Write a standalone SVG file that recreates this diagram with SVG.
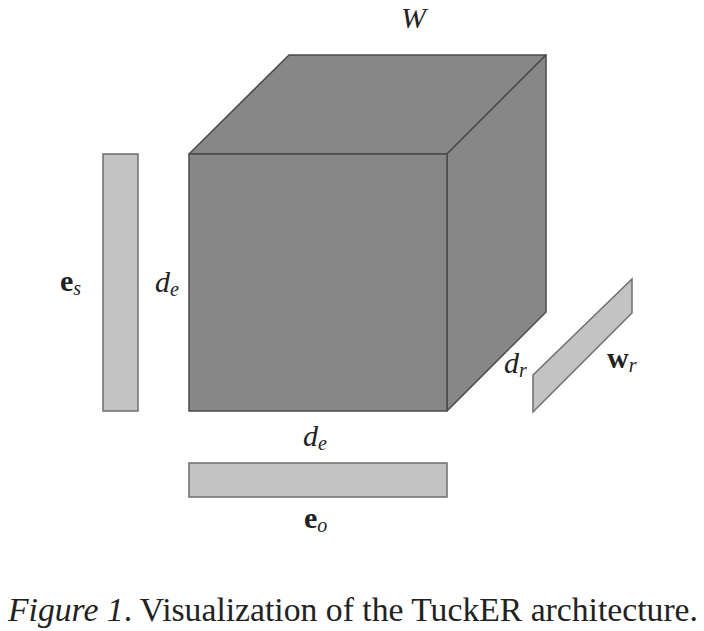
<svg xmlns="http://www.w3.org/2000/svg" width="704" height="631" viewBox="0 0 704 631">
<style>
.cube{fill:#878787;stroke:#4a4a4a;stroke-width:1.5;stroke-linejoin:round}
.bar{fill:#c3c3c3;stroke:#6e6e6e;stroke-width:1.5}
.m{font-family:"Liberation Serif",serif;font-size:30px;fill:#222}
.i{font-style:italic}
.b{font-weight:bold}
.sub{font-size:20px}
.cap{font-family:"Liberation Serif",serif;font-size:33px;fill:#222}
</style>
<rect width="704" height="631" fill="#fff"/>
<g id="cube">
<polygon class="cube" points="189,154 289,55 546,55 447,154"/>
<polygon class="cube" points="447,154 546,55 546,312 447,411"/>
<rect class="cube" x="189" y="154" width="258" height="257"/>
</g>
<g id="es">
<rect class="bar" x="103" y="154" width="35" height="257"/>
<text class="m b" x="60" y="291">e<tspan class="sub" font-weight="normal" font-style="italic" dy="4">s</tspan></text>
</g>
<g id="eo">
<rect class="bar" x="189" y="463" width="258" height="34"/>
<text class="m b" x="304" y="528">e<tspan class="sub" font-weight="normal" font-style="italic" dy="4">o</tspan></text>
</g>
<g id="wr">
<polygon class="bar" points="533,375 632,279 632,313 533,412"/>
<text class="m b" x="607" y="368">w<tspan class="sub" font-weight="normal" font-style="italic" dy="4">r</tspan></text>
</g>
<g id="labels">
<text class="m i" x="401" y="28">W</text>
<text class="m i" x="155" y="292">d<tspan class="sub" dy="4">e</tspan></text>
<text class="m i" x="303" y="446">d<tspan class="sub" dy="4">e</tspan></text>
<text class="m i" x="504" y="373">d<tspan class="sub" dy="4">r</tspan></text>
</g>
<g id="connectors"></g>
<text class="cap" x="8" y="621" textLength="690" lengthAdjust="spacingAndGlyphs"><tspan font-style="italic">Figure 1</tspan>. Visualization of the TuckER architecture.</text>
</svg>
